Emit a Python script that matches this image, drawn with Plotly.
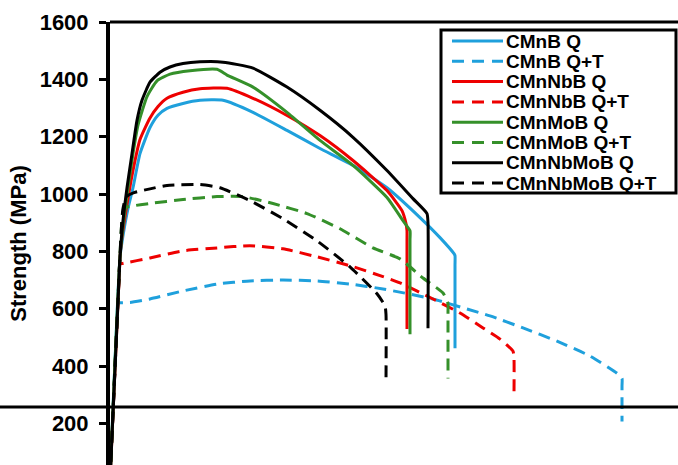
import plotly.graph_objects as go

# Engineering strain (%) and strength (MPa) for each steel / heat-treatment condition
names = ["CMnB Q", "CMnB Q+T", "CMnNbB Q", "CMnNbB Q+T",
         "CMnMoB Q", "CMnMoB Q+T", "CMnNbMoB Q", "CMnNbMoB Q+T"]

cmnb_q_x = [0, 0.25, 0.32, 0.45, 0.575, 0.75, 1.0, 1.2, 1.425, 1.825, 2.25, 2.825,
            3.575, 4.425, 5.25, 6.075, 6.925, 7.75, 8.25, 8.6, 8.625, 8.625, 8.625]
cmnb_q_y = [0, 780, 850, 950, 1022, 1141, 1232, 1275, 1299, 1316, 1327, 1327,
            1285, 1222, 1159, 1100, 1022, 918, 848, 792, 785, 750, 462]

cmnb_qt_x = [0, 0.19, 0.2, 0.27, 0.5, 1.0, 1.825, 2.675, 3.5, 4.325, 5.175, 6.0,
             6.825, 8.075, 8.925, 9.5, 10.325, 11.175, 12.0, 12.675, 12.8, 12.8, 12.8]
cmnb_qt_y = [0, 590, 620, 621, 622, 634, 662, 686, 697, 700, 697, 686,
             669, 634, 599, 575, 533, 487, 435, 375, 357, 330, 207]

cmnnbb_q_x = [0, 0.25, 0.3, 0.42, 0.575, 0.75, 1.0, 1.2, 1.425, 1.825, 2.25, 2.925,
              3.575, 4.425, 5.25, 6.075, 6.925, 7.3, 7.4, 7.425, 7.425, 7.425]
cmnnbb_q_y = [0, 780, 850, 960, 1082, 1190, 1265, 1305, 1334, 1355, 1367, 1369,
              1334, 1274, 1204, 1117, 1012, 942, 897, 872, 840, 529]

cmnnbb_qt_x = [0, 0.23, 0.245, 0.32, 1.0, 1.825, 2.675, 3.5, 4.325, 5.175, 6.0,
               6.825, 7.25, 8.075, 8.75, 9.325, 9.75, 10.075, 10.1, 10.1]
cmnnbb_qt_y = [0, 720, 756, 758, 777, 802, 812, 820, 809, 781, 750,
               712, 690, 634, 585, 533, 494, 452, 425, 301]

cmnmob_q_x = [0, 0.25, 0.34, 0.45, 0.575, 0.7, 0.925, 1.175, 1.5, 2.0, 2.675, 2.925,
              3.575, 4.425, 5.25, 6.075, 6.925, 7.325, 7.5, 7.5, 7.5]
cmnmob_q_y = [0, 780, 907, 1022, 1141, 1240, 1340, 1395, 1418, 1430, 1435, 1415,
              1373, 1285, 1187, 1100, 988, 907, 872, 840, 511]

cmnmob_qt_x = [0, 0.28, 0.32, 0.4, 1.0, 1.825, 2.675, 3.325, 4.075, 4.925, 5.75,
               6.575, 7.25, 7.825, 8.325, 8.45, 8.45, 8.45]
cmnmob_qt_y = [0, 870, 935, 953, 967, 981, 991, 991, 967, 932, 879,
               812, 774, 707, 655, 617, 590, 357]

cmnnbmob_q_x = [0, 0.25, 0.325, 0.425, 0.55, 0.675, 0.8, 1.0, 1.25, 1.5, 1.825, 2.25,
                2.825, 3.575, 4.425, 5.25, 6.075, 6.925, 7.575, 7.925, 7.95, 7.95]
cmnnbmob_q_y = [0, 780, 907, 1022, 1141, 1257, 1327, 1390, 1425, 1443, 1455, 1461,
                1460, 1439, 1373, 1292, 1198, 1082, 984, 932, 900, 532]

cmnnbmob_qt_x = [0, 0.28, 0.32, 0.4, 0.6, 1.0, 1.425, 2.25, 2.75, 3.5, 4.325, 5.175,
                 6.0, 6.675, 6.875, 6.9, 6.9]
cmnnbmob_qt_y = [0, 870, 945, 990, 1005, 1018, 1030, 1033, 1022, 977, 914, 837,
                 746, 652, 610, 580, 347]

xs = [cmnb_q_x, cmnb_qt_x, cmnnbb_q_x, cmnnbb_qt_x,
      cmnmob_q_x, cmnmob_qt_x, cmnnbmob_q_x, cmnnbmob_qt_x]
ys = [cmnb_q_y, cmnb_qt_y, cmnnbb_q_y, cmnnbb_qt_y,
      cmnmob_q_y, cmnmob_qt_y, cmnnbmob_q_y, cmnnbmob_qt_y]

colors = ["#1fa0dc", "#1fa0dc", "#ee0000", "#ee0000",
          "#35902a", "#35902a", "#000000", "#000000"]
dashes = ["solid", "12px,7px", "solid", "12px,7px",
          "solid", "12px,7px", "solid", "12px,7px"]

y_ticks = [200, 400, 600, 800, 1000, 1200, 1400, 1600]
y_tick_text = ["200", "400", "600", "800", "1000", "1200", "1400", "1600"]
x_range = [0, 14.2]
y_range = [55, 1600]
baseline_y = 257

FONT = "Liberation Sans, Arial, sans-serif"

fig = go.Figure()
for name, x, y, c, d in zip(names, xs, ys, colors, dashes):
    fig.add_trace(go.Scatter(x=x, y=y, mode="lines", name=name, showlegend=False,
                             line=dict(color=c, width=3, dash=d,
                                       shape="spline", smoothing=0.5)))

# plot-area geometry in pixels (used for the hand-drawn legend box)
W, H = 678, 465
ML, MT = 110, 22
PW, PH = W - ML, H - MT


def px_x(px):
    return (px - ML) / PW


def px_y(py):
    return (H - py) / PH


shapes = [
    # top frame line
    dict(type="line", xref="paper", yref="paper", x0=0, x1=1, y0=1, y1=1,
         line=dict(color="black", width=3)),
    # horizontal reference line across the figure
    dict(type="line", xref="paper", yref="y", x0=px_x(0), x1=1,
         y0=baseline_y, y1=baseline_y, line=dict(color="black", width=3)),
    # legend frame
    dict(type="rect", xref="paper", yref="paper", x0=px_x(441), x1=px_x(676),
         y0=px_y(193), y1=px_y(30), line=dict(color="black", width=3),
         fillcolor="white", layer="above"),
]
annotations = []
for i, (name, c, d) in enumerate(zip(names, colors, dashes)):
    yc = px_y(41 + i * 20.3)
    shapes.append(dict(type="line", xref="paper", yref="paper",
                       x0=px_x(452), x1=px_x(503), y0=yc, y1=yc,
                       line=dict(color=c, width=3,
                                 dash="solid" if d == "solid" else "12px,8px")))
    annotations.append(dict(xref="paper", yref="paper", x=px_x(504), y=yc,
                            text=name, showarrow=False, xanchor="left",
                            yanchor="middle",
                            font=dict(family=FONT, size=19, color="black",
                                      weight="bold")))

fig.update_layout(
    width=W, height=H,
    margin=dict(l=ML, r=0, t=MT, b=0),
    paper_bgcolor="white", plot_bgcolor="white",
    shapes=shapes, annotations=annotations,
    showlegend=False,
    xaxis=dict(range=x_range, visible=False, showgrid=False, zeroline=False),
    yaxis=dict(range=y_range, tickvals=y_ticks, ticktext=y_tick_text,
               showgrid=False, zeroline=False,
               showline=True, linecolor="black", linewidth=4,
               ticks="outside", ticklen=7, tickwidth=2.5, tickcolor="black",
               ticklabelstandoff=6,
               tickfont=dict(family=FONT, size=22, color="black", weight="bold"),
               title=dict(text="Strength (MPa)", standoff=8,
                          font=dict(family=FONT, size=22, color="black",
                                    weight="bold"))),
)

fig.write_html("out.html")
